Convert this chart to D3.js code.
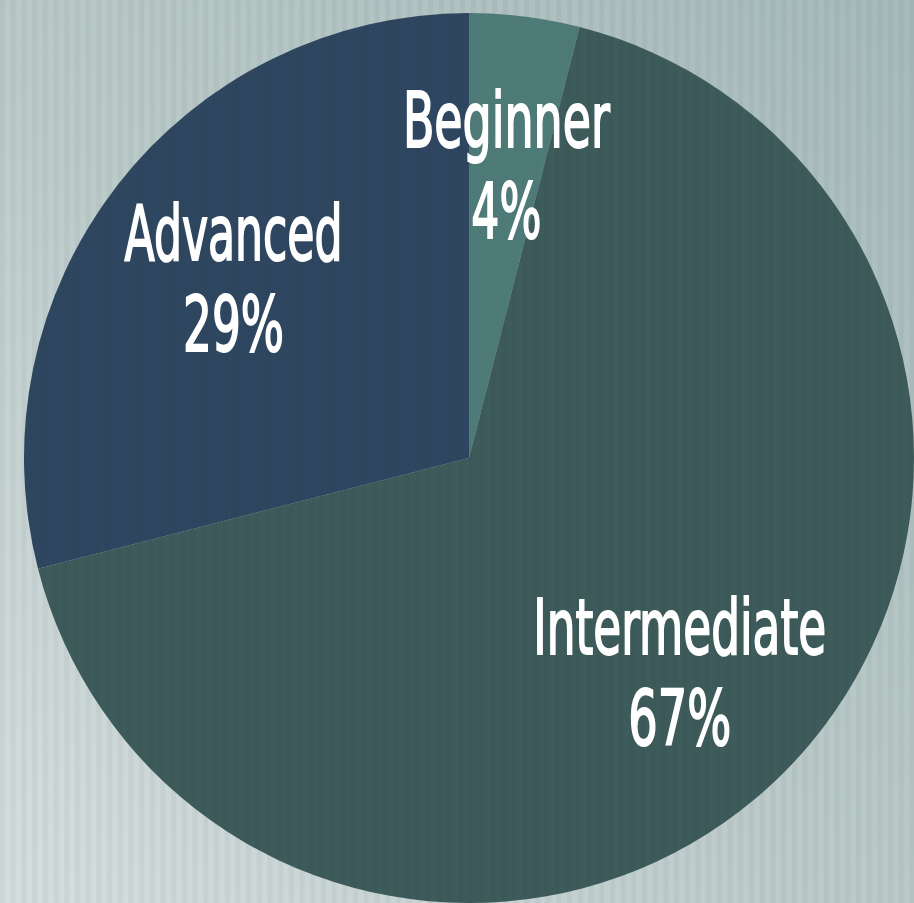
<!DOCTYPE html>
<html>
<head>
<meta charset="utf-8">
<script src="https://cdn.jsdelivr.net/npm/d3@7"></script>
<style>
  html, body { margin: 0; padding: 0; background: #b8c8c7; }
  svg { display: block; }
</style>
</head>
<body>
<script>
const categories = ["Beginner", "Intermediate", "Advanced"];
const values = [4, 67, 29];
const percentLabels = ["4%", "67%", "29%"];
const colors = ["#4e7b78", "#3d5b5a", "#2f4660"];
const labelWidths = [207, 293, 218];
const percentWidths = [70, 103, 101];

const W = 914, H = 903;
const cx = 469, cy = 458, R = 445;

const svg = d3.select("body").append("svg").attr("width", W).attr("height", H);
const defs = svg.append("defs");

const bg = defs.append("linearGradient").attr("id", "bg")
  .attr("x1", "0%").attr("y1", "100%").attr("x2", "100%").attr("y2", "0%");
bg.append("stop").attr("offset", "0%").attr("stop-color", "#d4dede");
bg.append("stop").attr("offset", "45%").attr("stop-color", "#bccbca");
bg.append("stop").attr("offset", "100%").attr("stop-color", "#a6baba");

const pat = defs.append("pattern").attr("id", "stripes")
  .attr("patternUnits", "userSpaceOnUse").attr("width", 10.7).attr("height", 20);
pat.append("rect").attr("x", 0).attr("y", 0).attr("width", 5).attr("height", 20)
  .attr("fill", "#000").attr("opacity", 0.035);

svg.append("rect").attr("width", W).attr("height", H).attr("fill", "url(#bg)");
svg.append("rect").attr("width", W).attr("height", H).attr("fill", "url(#stripes)");

const data = categories.map((c, i) => ({
  name: c, value: values[i], pct: percentLabels[i], color: colors[i],
  tw: labelWidths[i], pw: percentWidths[i]
}));

const pie = d3.pie().value(d => d.value).sort(null);
const arcs = pie(data);
const arc = d3.arc().innerRadius(0).outerRadius(R);
const labelArc = d3.arc().innerRadius(298).outerRadius(298);

const g = svg.append("g").attr("transform", `translate(${cx},${cy})`);
g.selectAll("path.slice").data(arcs).join("path")
  .attr("class", "slice")
  .attr("d", arc)
  .attr("fill", d => d.data.color);

g.selectAll("path.stripe").data(arcs).join("path")
  .attr("class", "stripe")
  .attr("d", arc)
  .attr("fill", "url(#stripes)")
  .attr("opacity", 0.5);

const lbl = g.selectAll("g.lbl").data(arcs).join("g")
  .attr("class", "lbl")
  .attr("transform", d => `translate(${labelArc.centroid(d)})`);

function addLine(sel, dy, textFn, widthFn) {
  sel.each(function(d) {
    const grp = d3.select(this).append("g").attr("transform", `translate(0,${dy})`);
    const t = grp.append("text")
      .attr("text-anchor", "middle")
      .attr("font-family", "'DejaVu Sans Condensed', 'DejaVu Sans', sans-serif")
      .attr("font-stretch", "condensed")
      .attr("font-size", 76)
      .attr("fill", "#ffffff")
      .attr("stroke", "#ffffff")
      .attr("stroke-width", 1.6)
      .attr("vector-effect", "non-scaling-stroke")
      .text(textFn(d));
    const w = t.node().getComputedTextLength();
    t.attr("transform", `scale(${widthFn(d) / w},1)`);
  });
}

addLine(lbl, -15, d => d.data.name, d => d.data.tw);
addLine(lbl, 76, d => d.data.pct, d => d.data.pw);
</script>
</body>
</html>
